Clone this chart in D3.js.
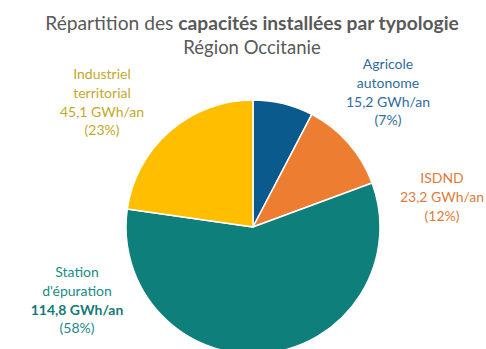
<!DOCTYPE html>
<html>
<head>
<meta charset="utf-8">
<script src="https://cdn.jsdelivr.net/npm/d3@7/dist/d3.min.js"></script>
<style>
  html, body { margin: 0; padding: 0; background: #fff; }
  svg { display: block; }
  text { font-family: Lato, "Open Sans", sans-serif; }
</style>
</head>
<body>
<svg id="chart" width="486" height="349"></svg>
<script>
// Installed capacity by type of site (GWh/an)
const categories = ["Agricole autonome", "ISDND", "Station d'épuration", "Industriel territorial"];
const values = [15.2, 23.2, 114.8, 45.1];
const percentLabels = ["(7%)", "(12%)", "(58%)", "(23%)"];
const valueLabels = ["15,2 GWh/an", "23,2 GWh/an", "114,8 GWh/an", "45,1 GWh/an"];
const nameLines = [["Agricole", "autonome"], ["ISDND"], ["Station", "d'épuration"], ["Industriel", "territorial"]];

const sliceColors = ["#0b5a8e", "#ed7d31", "#0f7f7c", "#ffbf00"];
const labelColors = ["#2f6d9b", "#df7b3a", "#228a86", "#c2a92b"];
const labelPos = [[388, 69], [442, 183], [77, 277], [102, 79]];
const lineH = 18.8;

const svg = d3.select("#chart");
const cx = 253, cy = 227, r = 127;

const pie = d3.pie().sort(null).value(d => d)(values);
const arc = d3.arc().innerRadius(0).outerRadius(r);

svg.append("g")
  .attr("transform", `translate(${cx},${cy})`)
  .selectAll("path")
  .data(pie)
  .join("path")
  .attr("d", arc)
  .attr("fill", (d, i) => sliceColors[i])
  .attr("stroke", "#fff")
  .attr("stroke-width", 1.5)
  .attr("stroke-linejoin", "round");

// Title
const title = svg.append("text")
  .attr("x", 252).attr("y", 30)
  .attr("text-anchor", "middle")
  .attr("font-size", 19.2)
  .attr("fill", "#595959");
title.append("tspan").text("Répartition des ");
title.append("tspan").attr("font-weight", "bold").text("capacités installées par typologie");

svg.append("text")
  .attr("x", 252).attr("y", 54)
  .attr("text-anchor", "middle")
  .attr("font-size", 18.5)
  .attr("fill", "#595959")
  .text("Région Occitanie");

// Slice labels
categories.forEach((c, i) => {
  const lines = [...nameLines[i], valueLabels[i], percentLabels[i]];
  const t = svg.append("text")
    .attr("x", labelPos[i][0]).attr("y", labelPos[i][1])
    .attr("text-anchor", "middle")
    .attr("font-size", 14)
    .attr("fill", labelColors[i]);
  lines.forEach((l, k) => {
    const s = t.append("tspan")
      .attr("x", labelPos[i][0])
      .attr("dy", k === 0 ? 0 : lineH)
      .text(l);
    if (i === 2 && k === nameLines[i].length) s.attr("font-weight", "bold").attr("fill", "#167a76");
  });
});
</script>
</body>
</html>
